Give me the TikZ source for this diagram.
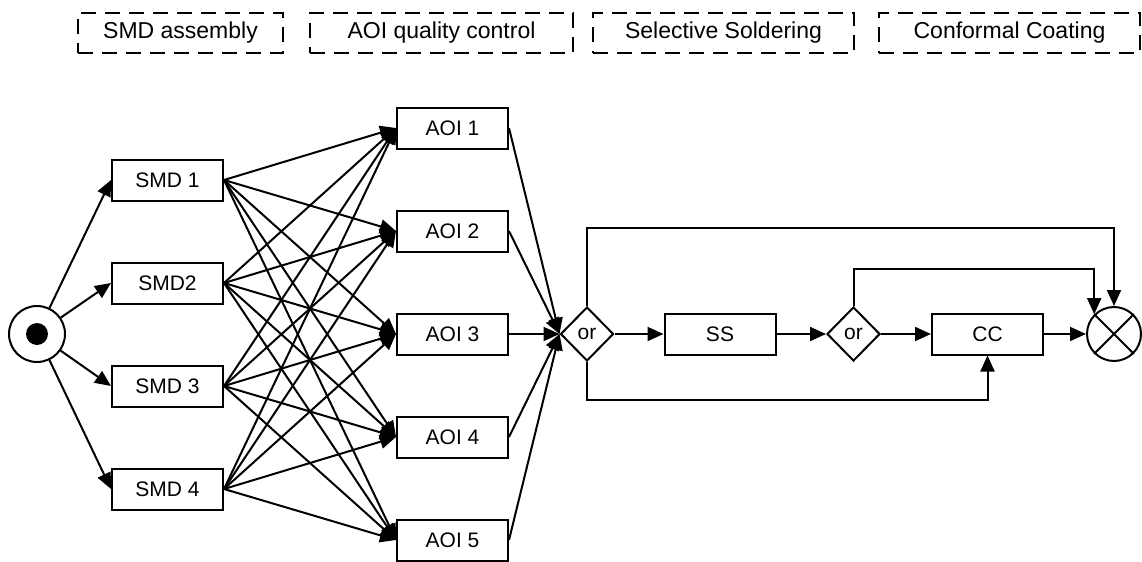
\documentclass[tikz,border=0pt]{standalone}
\usepackage{fontspec}
\setmainfont{Liberation Sans}
\usetikzlibrary{arrows.meta,shapes.geometric}
\begin{document}
\begin{tikzpicture}[x=0.5pt,y=-0.5pt,line width=1pt,
    box/.style={draw,minimum width=55.5pt,minimum height=20.5pt,inner sep=0pt,font=\fontsize{10.5}{12}\selectfont},
    gate/.style={draw,diamond,aspect=1,minimum width=26.5pt,minimum height=27pt,inner sep=0pt,font=\fontsize{10.5}{12}\selectfont},
    phase/.style={draw,dash pattern=on 7.5pt off 4.5pt,minimum height=20pt,inner sep=0pt,font=\fontsize{11.5}{13}\selectfont},
    arr/.style={-{Triangle[length=8pt,width=7pt]}}]
    \useasboundingbox (0,0) rectangle (1142,562);
    % process phases
    \node[phase,minimum width=102.5pt] (ph1) at (180.5,33) {SMD assembly};
    \node[phase,minimum width=131.5pt] (ph2) at (441.5,33) {AOI quality control};
    \node[phase,minimum width=130.5pt] (ph3) at (723.5,33) {Selective Soldering};
    \node[phase,minimum width=130.5pt] (ph4) at (1009.5,33) {Conformal Coating};
    \node[draw,circle,minimum size=28pt,inner sep=0pt] (start) at (37,334) {};
    \fill (start) circle (5.5pt);
    \node[box] (smd1) at (167.5,180) {SMD 1};
    \node[box] (smd2) at (167.5,283) {SMD2};
    \node[box] (smd3) at (167.5,386) {SMD 3};
    \node[box] (smd4) at (167.5,489) {SMD 4};
    \node[box] (aoi1) at (452.5,128) {AOI 1};
    \node[box] (aoi2) at (452.5,231) {AOI 2};
    \node[box] (aoi3) at (452.5,334) {AOI 3};
    \node[box] (aoi4) at (452.5,437) {AOI 4};
    \node[box] (aoi5) at (452.5,540) {AOI 5};
    \node[gate] (or1) at (587,334) {or};
    \node[box] (ss) at (720,334) {SS};
    \node[gate] (or2) at (853.5,334) {or};
    \node[box] (cc) at (987.5,334) {CC};
    \node[draw,circle,minimum size=27pt,inner sep=0pt] (end) at (1114,334) {};
    \draw (end.north west) -- (end.south east) (end.north east) -- (end.south west);
    % every SMD line feeds every AOI station
    \foreach \i in {1,...,4} \draw[arr] (start) -- (smd\i.west);
    \foreach \i in {1,...,4} \foreach \j in {1,...,5} \draw[arr] (smd\i.east) -- (aoi\j.west);
    \foreach \j in {1,...,5} \draw[arr] (aoi\j.east) -- (or1.west);
    \draw[arr] (or1) -- (ss);
    \draw[arr] (ss) -- (or2);
    \draw[arr] (or2) -- (cc);
    \draw[arr] (cc) -- (end);
    \draw[arr] (or1.north) -- ++(0,-78) -| (end.north);
    \draw[arr] (or2.north) -- ++(0,-37) -| (end.north west);
    \draw[arr] (or1.south) -- ++(0,38) -| (cc.south);
\end{tikzpicture}
\end{document}
